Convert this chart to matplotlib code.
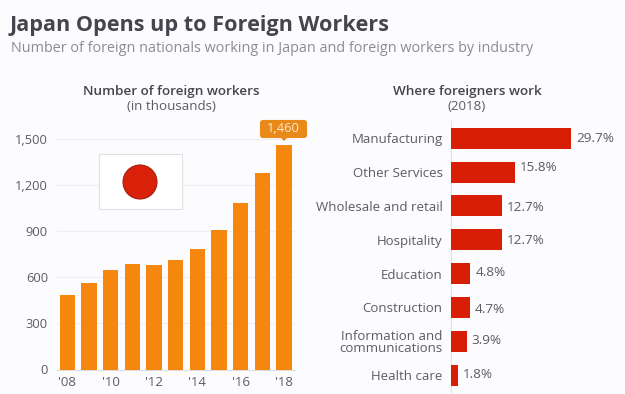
import matplotlib
matplotlib.use("Agg")
import matplotlib.pyplot as plt
from matplotlib.patches import Rectangle, Circle, FancyBboxPatch, Polygon

plt.rcParams['font.family'] = ['Open Sans', 'DejaVu Sans']

years = list(range(2008, 2019))
workers = [483, 560, 648, 684, 680, 712, 785, 905, 1080, 1275, 1460]
year_labels = ["'08", "'10", "'12", "'14", "'16", "'18"]
y_ticks = [0, 300, 600, 900, 1200, 1500]

industries = ["Manufacturing", "Other Services", "Wholesale and retail", "Hospitality",
              "Education", "Construction", "Information and\ncommunications", "Health care"]
shares = [29.7, 15.8, 12.7, 12.7, 4.8, 4.7, 3.9, 1.8]
label_shift = [0, 5, -2, -1, 1, -2, 1, 0]

W, H = 625, 394
BG = "#fcfbfd"
ORANGE = "#f5870f"
RED = "#d81e05"
DARK = "#45454d"
MID = "#5c5c64"
LIGHT = "#8c8c94"

fig = plt.figure(figsize=(W/100, H/100), dpi=100, facecolor=BG)

def axes_px(l, t, r, b):
    return fig.add_axes([l/W, 1-b/H, (r-l)/W, (b-t)/H], facecolor="none")

# Left chart
ax = axes_px(57, 120, 295, 369.5)
ax.set_ylim(0, 1500 * (369.5-120)/(369.5-138.5))
ax.set_xlim(2008 - (67.3-57)/21.67, 2018 + (295-284)/21.67)
ax.bar(years, workers, width=0.715, color=ORANGE, edgecolor="none", zorder=3)
ax.set_yticks(y_ticks)
ax.set_yticklabels([f"{v:,}" for v in y_ticks], fontsize=9.3, color=MID)
ax.set_xticks(years[::2])
ax.set_xticklabels(year_labels, fontsize=9.5, color=MID)
ax.grid(axis="y", color="#efeff2", lw=0.8, zorder=0)
ax.tick_params(length=0)
ax.tick_params(axis="y", pad=6.5)
ax.tick_params(axis="x", pad=4.5)
for s in ["top", "right", "left"]:
    ax.spines[s].set_visible(False)
ax.spines["bottom"].set_color("#dcdce0")
ax.spines["bottom"].set_linewidth(0.8)

# Flag and callout overlay in pixel coordinates
ov2 = fig.add_axes([0, 0, 1, 1], facecolor="none", zorder=5)
ov2.set_xlim(0, W); ov2.set_ylim(H, 0); ov2.axis("off")
ov2.add_patch(Rectangle((98.5, 154), 83, 55, fc="white", ec="#dfdfe4", lw=0.8))
ov2.add_patch(Circle((140, 182), 17, fc="#d92008", ec="#a8200f", lw=0.8))

ov2.add_patch(FancyBboxPatch((261, 121), 45, 16, boxstyle="round,pad=0,rounding_size=2",
                             fc="#e8891a", ec="#e8891a", lw=1.5))
ov2.add_patch(Polygon([[280, 137], [288, 137], [284, 141]], fc="#e8891a", ec="none"))
ov2.text(283.5, 128.5, f"{workers[-1]:,}", color="#fbe7cc", fontsize=9.3, ha="center", va="center")

# Right chart
ax2 = axes_px(451, 121, 625, 392)
ax2.set_xlim(0, 174 / (120/29.7))
pitch = (375-138.3)/7
ax2.set_ylim((392-138.3)/pitch, (121-138.3)/pitch)
pos = list(range(len(industries)))
ax2.barh(pos, shares, height=21/pitch, color=RED, edgecolor="none", zorder=3)
ax2.set_yticks(pos)
ax2.set_yticklabels(industries, fontsize=9.5, color=MID, linespacing=0.95)
ax2.set_xticks([])
ax2.tick_params(length=0, pad=6)
for s in ["top", "right", "bottom"]:
    ax2.spines[s].set_visible(False)
ax2.spines["left"].set_color("#e2e2e6")
ax2.spines["left"].set_linewidth(0.8)
for p, v, d in zip(pos, shares, label_shift):
    ax2.annotate(f"{v}%", (v, p), xytext=(3.6, d*0.72), textcoords="offset points",
                 va="center", ha="left", fontsize=9.7, color=MID, clip_on=False)

# Titles
def t(x, y, s, **k):
    fig.text(x/W, 1-y/H, s, **k)

t(10, 25.5, "Japan Opens up to Foreign Workers", fontsize=15.6, fontweight="bold", color=DARK, va="center")
t(11, 48, "Number of foreign nationals working in Japan and foreign workers by industry",
  fontsize=10.4, color=LIGHT, va="center")
t(171, 91.5, "Number of foreign workers", fontsize=9.7, fontweight="semibold", color=DARK, ha="center", va="center")
t(171, 106, "(in thousands)", fontsize=9.6, color=MID, ha="center", va="center")
t(467, 91.5, "Where foreigners work", fontsize=9.7, fontweight="semibold", color=DARK, ha="center", va="center")
t(467, 106, "(2018)", fontsize=9.6, color=MID, ha="center", va="center")

fig.savefig("out.png", dpi=100, facecolor=BG)
